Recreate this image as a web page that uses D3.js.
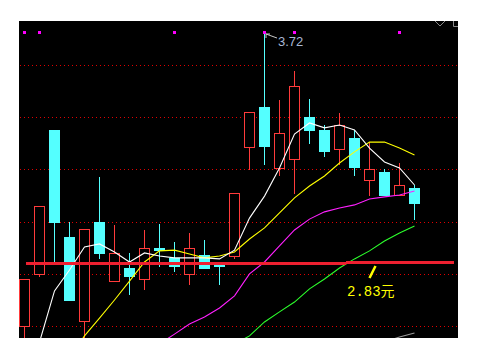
<!DOCTYPE html>
<html>
<head>
<meta charset="utf-8">
<script src="https://cdn.jsdelivr.net/npm/d3@7"></script>
<style>
    body { margin: 0; background: #fff; }
</style>
</head>
<body>
<svg></svg>
<script>
// CANDLES (price)
const OPEN  = [2.582, 2.784, 3.341, 2.927, 2.602, 2.985, 2.756, 2.807, 2.764, 2.884, 2.846, 2.784, 2.857, 2.822,
               2.853, 3.275, 3.430, 3.194, 3.229, 3.391, 3.341, 3.267, 3.310, 3.147, 3.178, 3.089, 3.116];
const CLOSE = [2.764, 3.047, 2.985, 2.683, 2.958, 2.865, 2.865, 2.776, 2.884, 2.876, 2.815, 2.884, 2.807, 2.815,
               3.097, 3.410, 3.279, 3.329, 3.511, 3.341, 3.260, 3.360, 3.198, 3.190, 3.089, 3.128, 3.058];
const HIGH  = [2.764, 3.047, 3.341, 2.985, 2.958, 3.159, 2.973, 2.865, 2.954, 2.977, 2.907, 2.942, 2.915, 2.826,
               3.097, 3.410, 3.720, 3.457, 3.569, 3.461, 3.360, 3.407, 3.341, 3.294, 3.190, 3.213, 3.128];
const LOW   = [2.500, 2.776, 2.826, 2.683, 2.520, 2.846, 2.756, 2.706, 2.726, 2.815, 2.795, 2.745, 2.807, 2.745,
               2.846, 3.190, 3.209, 3.167, 3.097, 3.291, 3.240, 3.209, 3.167, 3.089, 3.089, 3.089, 2.996];

// MOVING AVERAGES (null = not drawn)
const MA5  = [null, 2.520, 2.718, 2.799, 2.888, 2.900, 2.869, 2.830, 2.865, 2.853, 2.846, 2.846, 2.846, 2.842,
              2.876, 3.000, 3.085, 3.194, 3.325, 3.368, 3.349, 3.360, 3.341, 3.271, 3.217, 3.194, 3.128];
const MA10 = [null, null, null, 2.459, 2.544, 2.613, 2.683, 2.756, 2.830, 2.873, 2.876, 2.861, 2.846, 2.853,
              2.869, 2.919, 2.962, 3.020, 3.078, 3.124, 3.163, 3.213, 3.256, 3.294, 3.294, 3.271, 3.244];
const MA20 = [null, null, null, null, null, null, null, null, null, 2.513, 2.551, 2.590, 2.617, 2.652,
              2.699, 2.784, 2.830, 2.892, 2.954, 2.996, 3.024, 3.039, 3.051, 3.074, 3.082, 3.089, 3.105];
const MA60 = [null, null, null, null, null, null, null, null, null, null, null, null, null, null,
              2.513, 2.544, 2.598, 2.637, 2.675, 2.726, 2.764, 2.807, 2.842, 2.873, 2.911, 2.942, 2.969];
const MA120 = [null, null, null, null, null, null, null, null, null, null, null, null, null, null,
               null, null, null, null, null, null, null, null, null, null, 2.520, 2.540, 2.555];

const GRID_PRICES = [3.592, 3.391, 3.190, 2.985, 2.784, 2.582];
const MARKERS = [0, 1, 10, 16, 18, 25];
const SUPPORT = 2.83;
const SUPPORT_LABEL = "2.83元";
const HIGH_LABEL = "3.72";

const WIDTH = 483;
const HEIGHT = 357;
const PLOT = { left: 19, top: 21, right: 458, bottom: 338 };

const UP = "#ff3b3b";
const DOWN = "#54ffff";

const svg = d3.select('svg')
.attr('width', WIDTH)
.attr('height', HEIGHT)
;

svg.append('defs')
.append('clipPath')
.attr('id', 'plot')
.append('rect')
.attr('x', PLOT.left)
.attr('y', PLOT.top)
.attr('width', PLOT.right - PLOT.left)
.attr('height', PLOT.bottom - PLOT.top)
;

svg.append('rect')
.attr('x', PLOT.left)
.attr('y', PLOT.top)
.attr('width', PLOT.right - PLOT.left)
.attr('height', PLOT.bottom - PLOT.top)
.attr('fill', '#000')
;

//SCALES
const xScale = d3.scalePoint().domain(d3.range(OPEN.length)).range([24, 414]);
const yScale = d3.scaleLinear().domain([SUPPORT, 3.72]).range([262, 32]);
const py = (p) => Math.round(yScale(p));

const chart = svg.append('g').attr('clip-path', 'url(#plot)');

//GRID
chart.selectAll('.grid')
.data(GRID_PRICES)
.enter()
.append('line')
.classed('grid', true)
.attr('x1', PLOT.left + 1)
.attr('x2', PLOT.right)
.attr('y1', d => py(d) + 0.5)
.attr('y2', d => py(d) + 0.5)
.attr('stroke', '#e00000')
.attr('stroke-dasharray', '1,3')
.attr('shape-rendering', 'crispEdges')
;

const candles = OPEN.map((o, i) => ({ i, o, c: CLOSE[i], h: HIGH[i], l: LOW[i] }));

//WICKS
chart.selectAll('.wick')
.data(candles)
.enter()
.append('line')
.classed('wick', true)
.attr('x1', d => xScale(d.i) + 0.5)
.attr('x2', d => xScale(d.i) + 0.5)
.attr('y1', d => py(d.h))
.attr('y2', d => py(d.l) + 1)
.attr('stroke', d => d.c >= d.o ? UP : DOWN)
;

//BODIES
chart.selectAll('.body')
.data(candles)
.enter()
.append('rect')
.classed('body', true)
.each(function (d) {
    const t = py(Math.max(d.o, d.c));
    const b = py(Math.min(d.o, d.c));
    const r = d3.select(this);
    if (d.c >= d.o) {
        r.attr('x', xScale(d.i) - 4.5)
        .attr('y', t + 0.5)
        .attr('width', 10)
        .attr('height', Math.max(b - t, 1))
        .attr('fill', '#000')
        .attr('stroke', UP);
    } else {
        r.attr('x', xScale(d.i) - 5)
        .attr('y', t)
        .attr('width', 11)
        .attr('height', Math.max(b - t + 1, 2))
        .attr('fill', DOWN);
    }
})
;

//MOVING AVERAGES
const line = d3.line()
.defined(d => d != null)
.x((d, i) => xScale(i) + 0.5)
.y(d => yScale(d))
;

[[MA120, '#9a9a9a'], [MA60, '#2cff2c'], [MA20, '#ff20ff'], [MA10, '#ffff00'], [MA5, '#ffffff']]
.forEach(([vals, colour]) => {
    chart.append('path')
    .datum(vals)
    .attr('d', line)
    .attr('fill', 'none')
    .attr('stroke', colour)
    .attr('stroke-width', 1.1)
    ;
});

//SUPPORT LINE
const sy = py(SUPPORT);
chart.append('line')
.attr('x1', 26).attr('x2', 346)
.attr('y1', sy + 1.5).attr('y2', sy + 1.5)
.attr('stroke', '#ee2030')
.attr('stroke-width', 3)
;
chart.append('line')
.attr('x1', 346).attr('x2', 454)
.attr('y1', sy + 0.5).attr('y2', sy + 0.5)
.attr('stroke', '#ee2030')
.attr('stroke-width', 3)
;

//TOP MARKERS
chart.selectAll('.marker')
.data(MARKERS)
.enter()
.append('rect')
.classed('marker', true)
.attr('x', d => xScale(d) - 1)
.attr('y', 31)
.attr('width', 3)
.attr('height', 3)
.attr('fill', '#ff00ff')
;

//HIGH LABEL
const hx = xScale(16);
const hy = py(3.72);
svg.append('path')
.attr('d', `M${hx + 2},${hy + 2}L${hx + 13},${hy + 6}M${hx + 2},${hy + 2}h4M${hx + 2},${hy + 2}v4`)
.attr('fill', 'none')
.attr('stroke', '#c8c8c8')
;
svg.append('text')
.attr('x', hx + 14)
.attr('y', hy + 14)
.text(HIGH_LABEL)
.attr('font-family', 'Liberation Sans, Arial, sans-serif')
.attr('font-size', 13)
.attr('fill', '#a8b8d4')
;

//SUPPORT LABEL
svg.append('line')
.attr('x1', 369.5).attr('y1', sy + 16)
.attr('x2', 375.5).attr('y2', sy + 4)
.attr('stroke', '#ffff00')
.attr('stroke-width', 2.5)
;
svg.append('text')
.attr('x', 347)
.attr('y', sy + 34)
.text(SUPPORT_LABEL)
.attr('font-family', 'Liberation Mono, "Noto Sans CJK SC", monospace')
.attr('font-size', 14)
.attr('fill', '#ffff00')
;

//CORNER ICONS
svg.append('path')
.attr('d', `M435,${PLOT.top}L440,${PLOT.top + 5}L445,${PLOT.top}M453.5,${PLOT.top}V${PLOT.top + 5.5}H458`)
.attr('fill', 'none')
.attr('stroke', '#8a8a8a')
;
</script>
</body>
</html>
